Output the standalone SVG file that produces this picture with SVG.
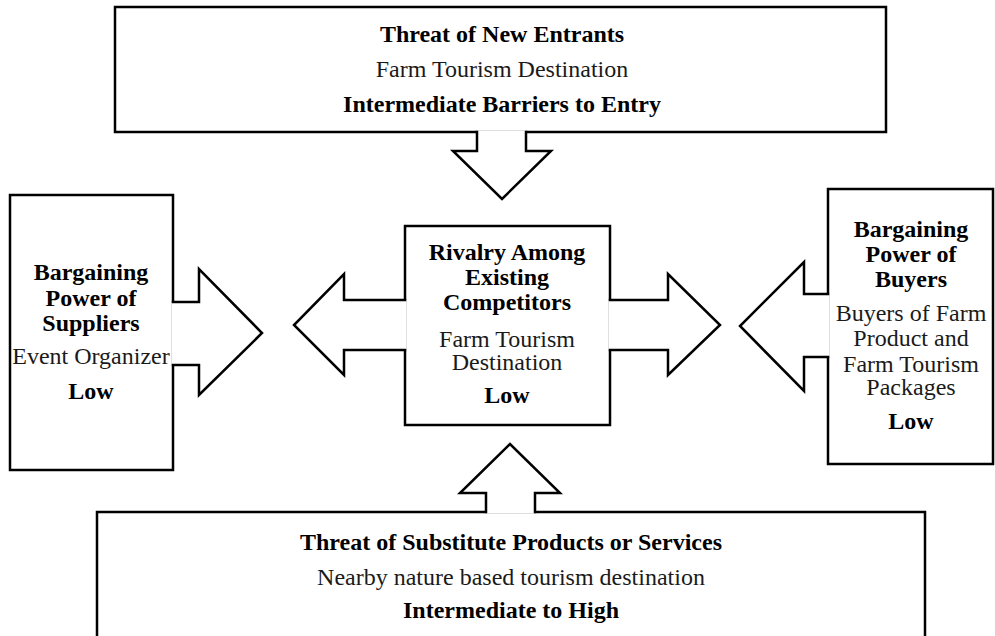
<svg xmlns="http://www.w3.org/2000/svg" width="995" height="636" viewBox="0 0 995 636">
<style>
.box{fill:#fff;stroke:#000;stroke-width:2.5}
.af{fill:#fff;stroke:none}
.as{fill:none;stroke:#000;stroke-width:2.5;stroke-linejoin:miter}
text{font-family:"Liberation Serif","Times New Roman",serif;font-size:24px;text-anchor:middle;fill:#1a1a1a}
.b{font-weight:bold;fill:#000}
</style>
<rect width="995" height="636" fill="#fff"/>
<g id="new-entrants">
<rect class="box" x="115" y="7" width="771" height="125"/>
<text class="b" x="502" y="42">Threat of New Entrants</text>
<text x="502" y="77">Farm Tourism Destination</text>
<text class="b" x="502" y="112">Intermediate Barriers to Entry</text>
</g>
<g id="suppliers">
<rect class="box" x="10" y="195" width="163" height="275"/>
<text class="b" x="91" y="280">Bargaining</text>
<text class="b" x="91" y="306">Power of</text>
<text class="b" x="91" y="331">Suppliers</text>
<text x="91" y="364">Event Organizer</text>
<text class="b" x="91" y="399">Low</text>
</g>
<g id="rivalry">
<rect class="box" x="405" y="226" width="205" height="199"/>
<text class="b" x="507" y="260">Rivalry Among</text>
<text class="b" x="507" y="285">Existing</text>
<text class="b" x="507" y="310">Competitors</text>
<text x="507" y="347">Farm Tourism</text>
<text x="507" y="370">Destination</text>
<text class="b" x="507" y="403">Low</text>
</g>
<g id="buyers">
<rect class="box" x="828" y="189" width="165" height="275"/>
<text class="b" x="911" y="237">Bargaining</text>
<text class="b" x="911" y="262">Power of</text>
<text class="b" x="911" y="287">Buyers</text>
<text x="911" y="321">Buyers of Farm</text>
<text x="911" y="346">Product and</text>
<text x="911" y="372">Farm Tourism</text>
<text x="911" y="395">Packages</text>
<text class="b" x="911" y="429">Low</text>
</g>
<g id="substitutes">
<rect class="box" x="97" y="512" width="828" height="140"/>
<text class="b" x="511" y="550">Threat of Substitute Products or Services</text>
<text x="511" y="585">Nearby nature based tourism destination</text>
<text class="b" x="511" y="618">Intermediate to High</text>
</g>
<g id="connectors">
<path class="af" d="M477,130.5 V151 H453 L502,199 L551,151 H526 V130.5 Z"/>
<path class="as" d="M477,130.75 V151 H453 L502,199 L551,151 H526 V130.75"/>
<path class="af" d="M171.5,302 H199 V269 L262,333 L199,395 V365 H171.5 Z"/>
<path class="as" d="M171.75,302 H199 V269 L262,333 L199,395 V365 H171.75"/>
<path class="af" d="M406.5,300 H344 V274 L294,325 L344,375 V350 H406.5 Z"/>
<path class="as" d="M406.25,300 H344 V274 L294,325 L344,375 V350 H406.25"/>
<path class="af" d="M608.5,300 H668 V274 L720,325 L668,375 V350 H608.5 Z"/>
<path class="as" d="M608.75,300 H668 V274 L720,325 L668,375 V350 H608.75"/>
<path class="af" d="M829.5,294 H804 V262 L740,326 L804,391 V357 H829.5 Z"/>
<path class="as" d="M829.25,294 H804 V262 L740,326 L804,391 V357 H829.25"/>
<path class="af" d="M486,513.5 V493 H460 L510,444 L560,493 H535 V513.5 Z"/>
<path class="as" d="M486,513.25 V493 H460 L510,444 L560,493 H535 V513.25"/>
</g>
</svg>
